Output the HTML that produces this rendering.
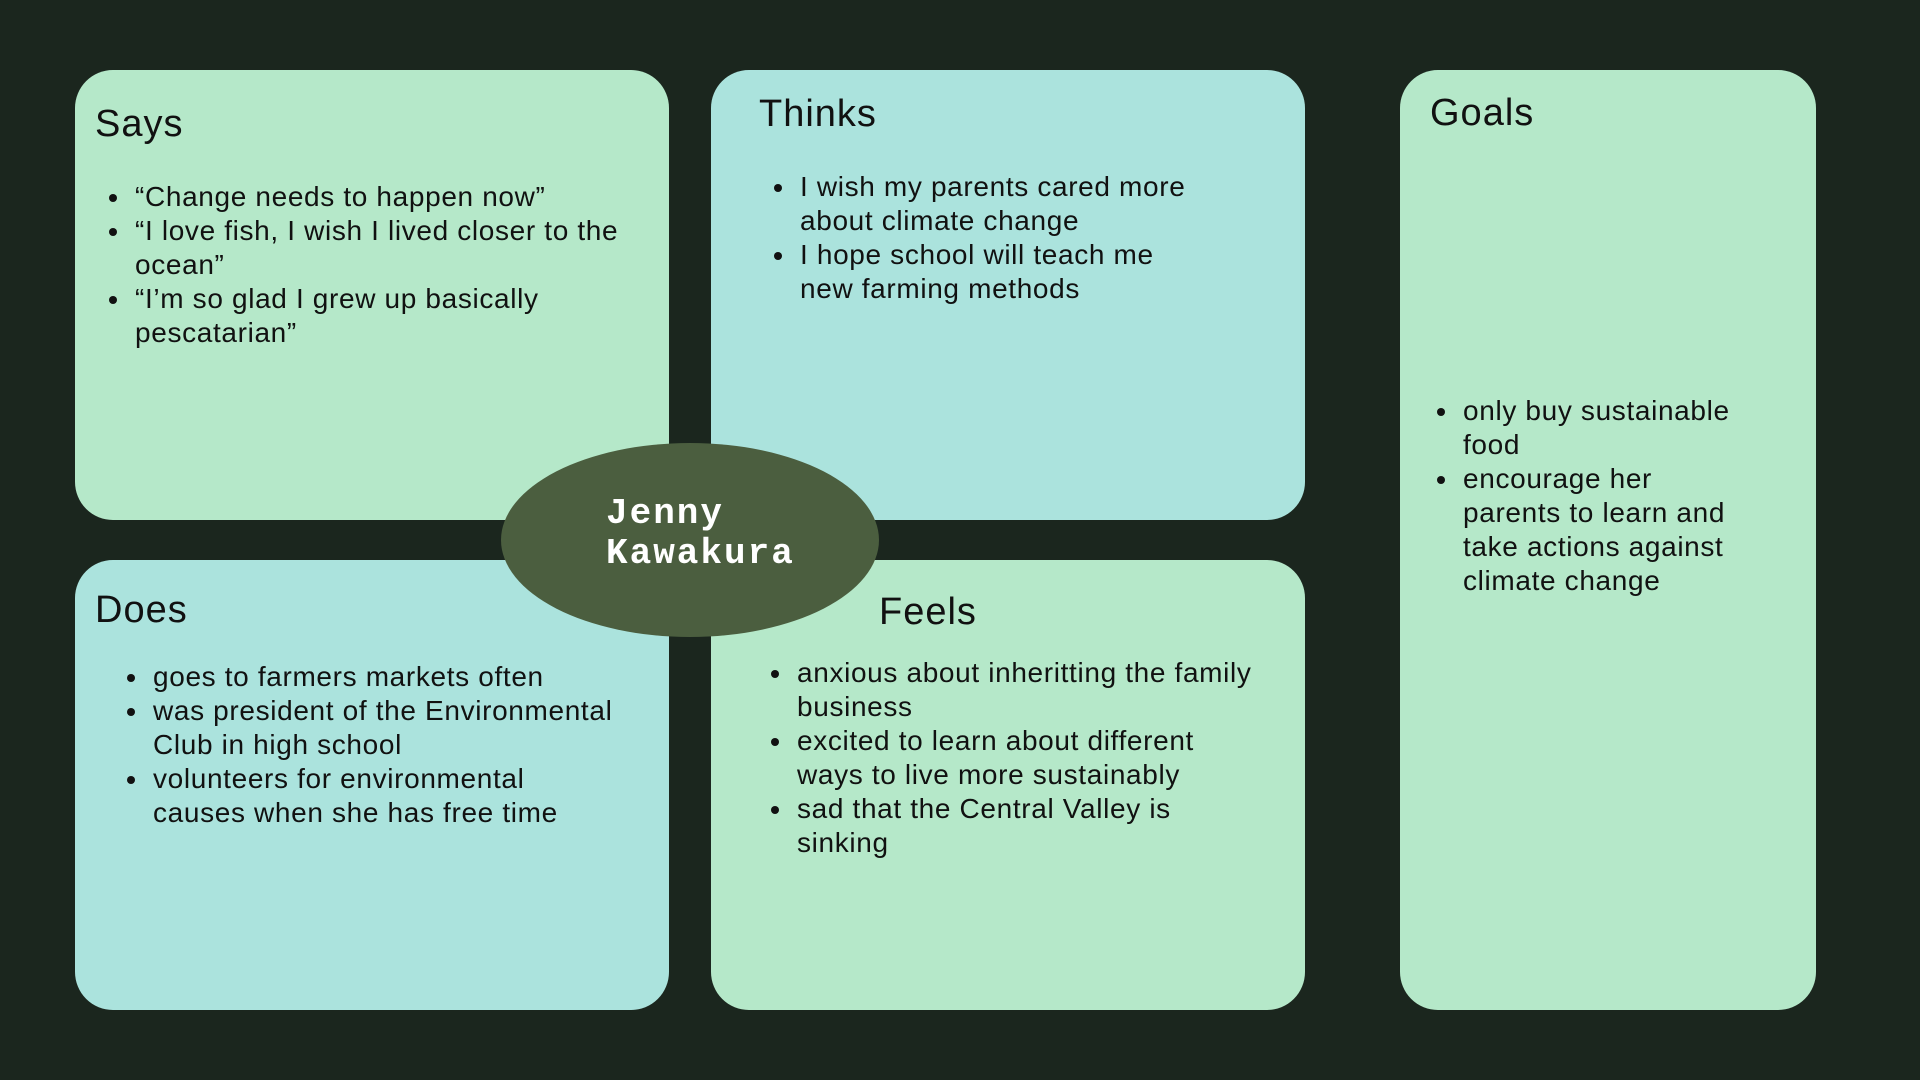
<!DOCTYPE html>
<html><head><style>
body{margin:0;width:1920px;height:1080px;background:#1b261e;position:relative;overflow:hidden;font-family:"Liberation Sans",sans-serif;color:#111}
.box{position:absolute;border-radius:38px}
.g{background:#b5e8c9}.t{background:#abe3dd}
.title{position:absolute;font-size:38px;line-height:40px;white-space:nowrap;letter-spacing:1px}
.list{position:absolute;font-size:28px;letter-spacing:0.65px;line-height:34px;white-space:nowrap}
.list div{position:relative}
.list div.b::before{content:"";position:absolute;width:8px;height:8px;border-radius:50%;background:#111;left:-26px;top:14px}
</style></head><body>
<div class="box g" style="left:75px;top:70px;width:594px;height:450px"></div>
<div class="box t" style="left:711px;top:70px;width:594px;height:450px"></div>
<div class="box g" style="left:1400px;top:70px;width:416px;height:940px"></div>
<div class="box t" style="left:75px;top:560px;width:594px;height:450px"></div>
<div class="box g" style="left:711px;top:560px;width:594px;height:450px"></div>
<svg style="position:absolute;left:0;top:0" width="1920" height="1080"><ellipse cx="690" cy="540" rx="189" ry="97" fill="#4b5e3f"/></svg>
<div style="position:absolute;left:606px;top:494px;font-family:'Liberation Mono',monospace;font-weight:bold;font-size:36px;line-height:40px;letter-spacing:2px;color:#fff">Jenny<br>Kawakura</div>

<div class="title" style="left:95px;top:104px">Says</div>
<div class="list" style="left:135px;top:180px">
<div class="b">“Change needs to happen now”</div>
<div class="b">“I love fish, I wish I lived closer to the</div>
<div>ocean”</div>
<div class="b">“I’m so glad I grew up basically</div>
<div>pescatarian”</div>
</div>

<div class="title" style="left:759px;top:94px">Thinks</div>
<div class="list" style="left:800px;top:170px">
<div class="b">I wish my parents cared more</div>
<div>about climate change</div>
<div class="b">I hope school will teach me</div>
<div>new farming methods</div>
</div>

<div class="title" style="left:1430px;top:93px">Goals</div>
<div class="list" style="left:1463px;top:394px">
<div class="b">only buy sustainable</div>
<div>food</div>
<div class="b">encourage her</div>
<div>parents to learn and</div>
<div>take actions against</div>
<div>climate change</div>
</div>

<div class="title" style="left:95px;top:590px">Does</div>
<div class="list" style="left:153px;top:660px">
<div class="b">goes to farmers markets often</div>
<div class="b">was president of the Environmental</div>
<div>Club in high school</div>
<div class="b">volunteers for environmental</div>
<div>causes when she has free time</div>
</div>

<div class="title" style="left:879px;top:592px">Feels</div>
<div class="list" style="left:797px;top:656px">
<div class="b">anxious about inheritting the family</div>
<div>business</div>
<div class="b">excited to learn about different</div>
<div>ways to live more sustainably</div>
<div class="b">sad that the Central Valley is</div>
<div>sinking</div>
</div>
</body></html>
